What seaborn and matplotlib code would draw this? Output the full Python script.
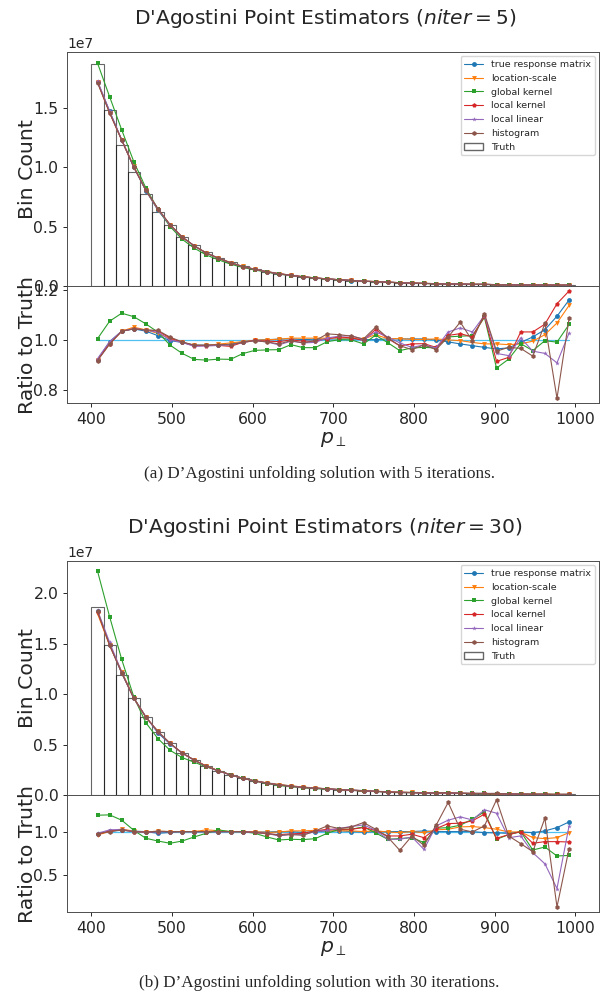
import numpy as np
import pandas as pd
import seaborn as sns
import matplotlib.pyplot as plt
from matplotlib.patches import Patch
from matplotlib.ticker import MultipleLocator

# binning of p_perp (40 bins of width 15 between 400 and 1000)
bin_lo, bin_hi, n_bins = 400, 1000, 40
edges = np.linspace(bin_lo, bin_hi, n_bins + 1)
centers = 0.5 * (edges[:-1] + edges[1:])

# truth counts (units of 1e7)
truth = [1.869, 1.484, 1.189, 0.959, 0.776, 0.627, 0.512, 0.416, 0.346, 0.284,
         0.239, 0.200, 0.166, 0.141, 0.121, 0.104, 0.090, 0.078, 0.068, 0.059,
         0.052, 0.046, 0.040, 0.036, 0.032, 0.028, 0.025, 0.022, 0.020, 0.018,
         0.016, 0.014, 0.013, 0.012, 0.010, 0.0095, 0.0085, 0.0077, 0.0070, 0.0063]

methods = ["true response matrix", "location-scale", "global kernel",
           "local kernel", "local linear", "histogram"]
markers = ["o", "v", "s", "p", "*", "h"]

# ratio to truth, niter = 5
ratio_5 = {
    "true response matrix": [0.920, 0.993, 1.035, 1.044, 1.035, 1.017, 0.997, 0.990, 0.979, 0.979,
                             0.981, 0.983, 0.992, 0.999, 1.001, 1.003, 1.004, 1.001, 1.003, 1.003,
                             1.004, 1.004, 1.001, 1.001, 1.004, 1.004, 1.004, 1.004, 0.999, 0.992,
                             0.984, 0.977, 0.970, 0.964, 0.968, 0.990, 1.012, 1.041, 1.095, 1.160],
    "location-scale": [0.920, 0.985, 1.035, 1.051, 1.040, 1.026, 1.005, 0.990, 0.978, 0.978,
                       0.983, 0.988, 0.993, 0.999, 1.000, 1.003, 1.007, 1.007, 1.007, 1.007,
                       1.008, 1.008, 1.004, 1.021, 1.005, 1.005, 1.002, 1.002, 1.004, 1.000,
                       0.997, 0.990, 0.984, 0.984, 0.981, 0.984, 0.995, 1.021, 1.068, 1.138],
    "global kernel": [1.005, 1.075, 1.107, 1.093, 1.064, 1.031, 0.979, 0.946, 0.922, 0.919,
                      0.923, 0.922, 0.945, 0.958, 0.960, 0.961, 0.981, 0.969, 0.969, 0.993,
                      1.001, 1.000, 0.984, 1.019, 0.989, 0.957, 0.968, 0.970, 0.968, 1.012,
                      1.015, 1.017, 1.090, 0.887, 0.923, 0.985, 0.957, 0.997, 0.991, 1.062],
    "local kernel": [0.920, 0.985, 1.035, 1.045, 1.040, 1.035, 1.008, 0.990, 0.977, 0.977,
                     0.978, 0.974, 0.990, 0.998, 0.995, 0.993, 1.000, 0.995, 0.995, 1.005,
                     1.012, 1.008, 0.998, 1.042, 1.006, 0.976, 0.984, 0.985, 0.970, 1.018,
                     1.025, 1.012, 1.095, 0.914, 0.930, 1.032, 1.032, 1.063, 1.145, 1.196],
    "local linear": [0.925, 0.993, 1.035, 1.045, 1.040, 1.030, 1.000, 0.990, 0.974, 0.976,
                     0.978, 0.980, 0.990, 0.997, 0.992, 0.980, 0.995, 0.988, 0.990, 1.008,
                     1.015, 1.017, 1.001, 1.032, 1.012, 0.988, 0.970, 0.980, 0.968, 1.032,
                     1.048, 1.032, 1.098, 0.946, 0.937, 1.008, 0.955, 0.946, 0.908, 1.028],
    "histogram": [0.917, 0.983, 1.035, 1.044, 1.040, 1.038, 1.011, 0.992, 0.979, 0.979,
                  0.981, 0.980, 0.990, 0.997, 0.992, 0.984, 0.997, 0.988, 0.997, 1.024,
                  1.021, 1.015, 1.004, 1.051, 1.008, 0.977, 0.961, 0.980, 0.961, 1.012,
                  1.071, 0.997, 1.105, 0.955, 0.970, 0.966, 0.935, 1.066, 0.766, 1.086],
}

# ratio to truth, niter = 30
ratio_30 = {
    "true response matrix": [0.975, 1.005, 1.015, 1.005, 1.000, 0.980, 0.990, 1.000, 1.000, 1.000,
                             1.000, 1.000, 1.000, 0.995, 0.995, 1.000, 1.000, 0.990, 1.000, 1.005,
                             1.010, 1.000, 0.995, 1.000, 1.000, 1.000, 1.000, 1.008, 1.000, 1.000,
                             1.000, 1.000, 0.988, 0.985, 0.980, 0.995, 0.988, 1.008, 1.046, 1.111],
    "location-scale": [0.962, 1.000, 1.030, 1.005, 0.995, 1.005, 1.000, 1.000, 1.000, 1.020,
                       1.010, 1.000, 1.000, 1.000, 0.990, 0.995, 1.008, 1.008, 1.015, 1.008,
                       1.010, 1.008, 1.000, 1.010, 0.995, 0.988, 1.000, 0.988, 1.020, 1.027,
                       1.054, 1.058, 1.046, 1.027, 0.996, 0.996, 0.931, 0.919, 0.931, 0.988],
    "global kernel": [1.188, 1.192, 1.131, 1.015, 0.923, 0.892, 0.866, 0.892, 0.939, 0.981,
                      1.019, 1.000, 1.000, 0.981, 0.939, 0.904, 0.912, 0.908, 0.919, 0.981,
                      1.027, 1.027, 1.054, 0.985, 0.912, 0.920, 0.931, 0.873, 1.038, 1.046,
                      1.073, 1.142, 1.227, 0.912, 0.965, 1.000, 0.789, 0.823, 0.720, 0.727],
    "local kernel": [0.970, 1.005, 1.020, 1.000, 0.995, 1.000, 1.000, 1.000, 1.000, 1.000,
                     1.000, 1.000, 1.000, 0.990, 0.975, 0.965, 0.975, 0.980, 1.008, 1.027,
                     1.027, 1.027, 1.046, 1.015, 0.950, 0.950, 0.970, 0.930, 1.035, 1.092,
                     1.096, 1.123, 1.200, 0.923, 0.965, 1.000, 0.866, 0.885, 0.885, 0.881],
    "local linear": [0.980, 1.020, 1.025, 1.000, 0.995, 1.000, 1.000, 1.000, 1.000, 1.000,
                     1.000, 1.000, 1.000, 0.990, 0.980, 0.950, 0.970, 0.965, 1.000, 1.015,
                     1.038, 1.058, 1.077, 1.015, 0.912, 0.912, 0.938, 0.796, 1.065, 1.131,
                     1.169, 1.134, 1.250, 1.211, 0.930, 0.950, 0.758, 0.631, 0.347, 1.065],
    "histogram": [0.975, 1.000, 1.020, 1.000, 0.995, 1.005, 1.000, 1.000, 1.000, 1.000,
                  1.000, 1.000, 1.000, 0.990, 0.980, 0.958, 0.965, 0.958, 1.008, 1.065,
                  1.035, 1.054, 1.104, 1.027, 0.938, 0.785, 0.950, 0.843, 1.073, 1.334,
                  1.027, 0.996, 1.065, 1.365, 0.950, 0.862, 0.770, 1.154, 0.136, 0.804],
}

sns.set_style("ticks")
plt.rcParams["font.family"] = ["DejaVu Sans"]
plt.rcParams["axes.linewidth"] = 0.7
plt.rcParams["axes.edgecolor"] = "0.3"
plt.rcParams["xtick.major.width"] = 0.7
plt.rcParams["ytick.major.width"] = 0.7
plt.rcParams["xtick.major.size"] = 3
plt.rcParams["ytick.major.size"] = 3
plt.rcParams["mathtext.fontset"] = "dejavusans"

palette = sns.color_palette("tab10", 6)
W, H = 608, 997
fig = plt.figure(figsize=(W / 100, H / 100), dpi=100)


def px_axes(left, top, right, bottom):
    return fig.add_axes([left / W, 1 - bottom / H, (right - left) / W, (bottom - top) / H])


def draw(ratios, top, niter, main_ylim, ratio_ylim, ratio_step):
    ax = px_axes(67.3, top, 599.3, top + 234.3)
    rax = px_axes(67.3, top + 234.3, 599.3, top + 351.6)

    truth_df = pd.DataFrame({"p": centers, "count": np.array(truth) * 1e7})
    sns.histplot(data=truth_df, x="p", weights="count", binwidth=15,
                 binrange=(bin_lo, bin_hi), fill=False, color="black",
                 alpha=0.6, linewidth=0.8, ax=ax)
    for m, mk, c in zip(methods, markers, palette):
        r = np.array(ratios[m])
        sns.lineplot(x=centers, y=truth_df["count"].values * r, marker=mk, markersize=3.5,
                     markeredgewidth=0, linewidth=0.8, color=c, label=m, ax=ax)
        sns.lineplot(x=centers, y=r, marker=mk, markersize=3.5, markeredgewidth=0,
                     linewidth=0.8, color=c, legend=False, ax=rax)
    sns.lineplot(x=centers, y=np.ones(n_bins), color="#4fc1f0", linewidth=0.9,
                 legend=False, ax=rax, zorder=0)

    handles, labels = ax.get_legend_handles_labels()
    handles.append(Patch(facecolor="none", edgecolor="black", alpha=0.6, label="Truth"))
    labels.append("Truth")
    ax.legend(handles, labels, loc="upper right", fontsize=6.8, framealpha=0.8)

    for a in (ax, rax):
        a.set_xlim(370, 1030)
        a.tick_params(labelsize=11.3)
    ax.set_ylim(*main_ylim)
    rax.set_ylim(*ratio_ylim)
    rax.yaxis.set_major_locator(MultipleLocator(ratio_step))
    ax.tick_params(axis="x", labelbottom=False, length=0)
    ax.yaxis.get_offset_text().set_fontsize(10)

    ax.set_title(r"D'Agostini Point Estimators ($\it{niter}=%d$)" % niter,
                 fontsize=14.6, pad=20, x=0.484)
    ax.set_ylabel("Bin Count", fontsize=14.7)
    ax.set_xlabel("")
    rax.set_ylabel("Ratio to Truth", fontsize=14.7)
    rax.set_xlabel(r"$p_\perp$", fontsize=14.7, labelpad=2)
    ax.yaxis.set_label_coords(-0.057, 0.5)
    rax.yaxis.set_label_coords(-0.057, 0.5)


draw(ratio_5, 51.7, 5, (0, 1.975e7), (0.746, 1.216), 0.2)
draw(ratio_30, 560.7, 30, (0, 2.324e7), (0.074, 1.42), 0.5)

cap_font = dict(family=["Liberation Serif", "DejaVu Serif"], fontsize=12.3, ha="center", va="center")
fig.text(319 / W, 1 - 474 / H, "(a) D\u2019Agostini unfolding solution with 5 iterations.", **cap_font)
fig.text(319 / W, 1 - 983 / H, "(b) D\u2019Agostini unfolding solution with 30 iterations.", **cap_font)

fig.savefig("out.png", dpi=100)
